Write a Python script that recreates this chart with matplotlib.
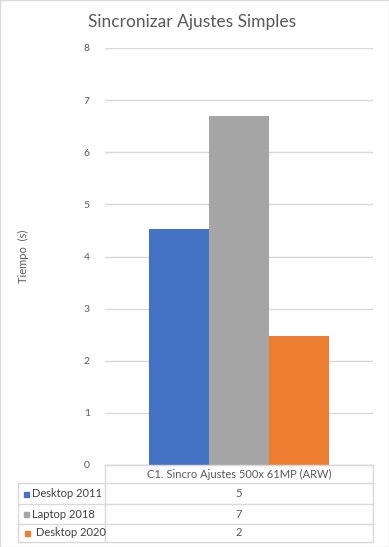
import matplotlib
matplotlib.use("Agg")
import matplotlib.pyplot as plt
from matplotlib.patches import Rectangle
from matplotlib.lines import Line2D

plt.rcParams['font.family'] = ['Lato', 'DejaVu Sans']

title = "Sincronizar Ajustes Simples"
category = "C1. Sincro Ajustes 500x 61MP (ARW)"
series = ["Desktop 2011", "Laptop 2018", "Desktop 2020"]
values = [4.53, 6.70, 2.48]
colors = ["#4472C4", "#A5A5A5", "#ED7D31"]
yticks = [0, 1, 2, 3, 4, 5, 6, 7, 8]
ylabel = "Tiempo  (s)"

W, H = 389, 547
fig = plt.figure(figsize=(W / 100, H / 100), dpi=100)
txt = "#595959"
grid = "#D9D9D9"

def fx(px):
    return px / W

def fy(py):
    return 1 - py / H

L, R, T, B = 105, 373, 48, 465
ax = fig.add_axes([fx(L), fy(B), fx(R) - fx(L), fy(T) - fy(B)])
bw = 60 / (R - L)
for i, (s, v, c) in enumerate(zip(series, values, colors)):
    ax.bar((i - 1) * bw, v, width=bw, color=c, zorder=3, label=s)
ax.set_xlim(-0.5, 0.5)
ax.set_ylim(0, 8)
ax.set_yticks(yticks)
ax.set_xticks([])
ax.yaxis.grid(True, color=grid, linewidth=1, zorder=0)
for sp in ["top", "right", "left"]:
    ax.spines[sp].set_visible(False)
ax.spines["bottom"].set_color(grid)
ax.tick_params(axis="y", length=0, labelsize=7.5, labelcolor=txt, pad=11)

fig.text(fx(192), fy(22), title, ha="center", va="center", fontsize=12.5, color=txt)
fig.text(fx(23), fy(256), ylabel, ha="center", va="center", rotation=90,
         fontsize=8, color=txt)

# data table
rows_y = [465, 483, 504, 524, 542]
TL = 18
lines = []
lines.append(((L, R), (rows_y[0], rows_y[0])))
for y in rows_y[1:]:
    lines.append(((TL, R), (y, y)))
lines.append(((L, L), (rows_y[0], rows_y[-1])))
lines.append(((R, R), (rows_y[0], rows_y[-1])))
lines.append(((TL, TL), (rows_y[1], rows_y[-1])))
for (x0, x1), (y0, y1) in lines:
    fig.add_artist(Line2D([fx(x0), fx(x1)], [fy(y0), fy(y1)], color=grid, lw=1))

fig.text(fx((L + R) / 2), fy((rows_y[0] + rows_y[1]) / 2), category,
         ha="center", va="center", fontsize=8, color=txt)
key_x = [24, 24, 25]
lab_x = [32, 32, 36]
for i, (s, v, c) in enumerate(zip(series, values, colors)):
    yc = (rows_y[i + 1] + rows_y[i + 2]) / 2
    fig.add_artist(Rectangle((fx(key_x[i]), fy(yc + 3)), fx(5), 5 / H, color=c,
                             transform=fig.transFigure))
    fig.text(fx(lab_x[i]), fy(yc), s, ha="left", va="center", fontsize=8, color="#404040")
    fig.text(fx((L + R) / 2), fy(yc), f"{v:.0f}", ha="center", va="center",
             fontsize=8, color=txt)

fig.add_artist(Rectangle((0, 0), 1 - 0.5 / W, 1, fill=False, edgecolor=grid, lw=1,
                         transform=fig.transFigure))

fig.savefig("out.png", dpi=100)
